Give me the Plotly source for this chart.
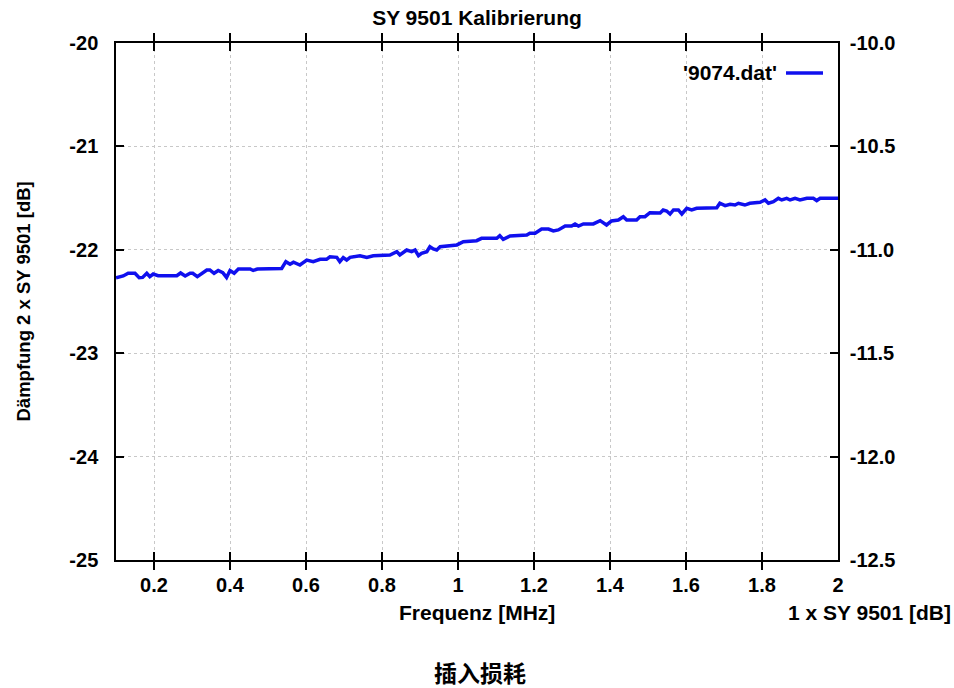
import plotly.graph_objects as go

# Frequency [MHz] and attenuation [dB]
freq = [0.100, 0.119, 0.132, 0.150, 0.161, 0.170, 0.181, 0.189, 0.198, 0.211,
        0.260, 0.270, 0.282, 0.295, 0.302, 0.314, 0.339, 0.347, 0.358, 0.369,
        0.381, 0.391, 0.400, 0.411, 0.422, 0.453, 0.461, 0.472, 0.536, 0.547,
        0.558, 0.567, 0.584, 0.602, 0.619, 0.637, 0.654, 0.663, 0.681, 0.689,
        0.698, 0.707, 0.716, 0.742, 0.760, 0.777, 0.821, 0.839, 0.847, 0.865,
        0.878, 0.887, 0.896, 0.904, 0.918, 0.926, 0.935, 0.944, 0.953, 0.979,
        0.997, 1.014, 1.049, 1.062, 1.102, 1.110, 1.119, 1.137, 1.181, 1.189,
        1.203, 1.220, 1.238, 1.251, 1.264, 1.282, 1.299, 1.308, 1.317, 1.330,
        1.356, 1.374, 1.391, 1.404, 1.422, 1.435, 1.444, 1.470, 1.479, 1.492,
        1.505, 1.532, 1.540, 1.549, 1.558, 1.567, 1.580, 1.589, 1.602, 1.615,
        1.628, 1.681, 1.689, 1.703, 1.716, 1.729, 1.738, 1.755, 1.768, 1.795,
        1.808, 1.817, 1.830, 1.843, 1.852, 1.865, 1.874, 1.887, 1.900, 1.918,
        1.935, 1.944, 1.953, 2.000]
atten = [-22.270, -22.253, -22.227, -22.227, -22.270, -22.267, -22.227, -22.260, -22.234, -22.250,
         -22.250, -22.224, -22.253, -22.227, -22.227, -22.260, -22.195, -22.195, -22.227, -22.200,
         -22.220, -22.267, -22.200, -22.227, -22.186, -22.186, -22.200, -22.186, -22.180, -22.115,
         -22.140, -22.120, -22.147, -22.099, -22.115, -22.092, -22.092, -22.067, -22.073, -22.115,
         -22.076, -22.099, -22.073, -22.057, -22.073, -22.057, -22.050, -22.018, -22.050, -22.002,
         -22.018, -22.002, -22.057, -22.034, -22.018, -21.970, -21.992, -22.002, -21.970, -21.960,
         -21.953, -21.922, -21.912, -21.889, -21.889, -21.863, -21.899, -21.866, -21.857, -21.840,
         -21.840, -21.799, -21.799, -21.818, -21.808, -21.770, -21.770, -21.750, -21.770, -21.750,
         -21.750, -21.718, -21.760, -21.721, -21.712, -21.680, -21.712, -21.712, -21.680, -21.680,
         -21.641, -21.645, -21.615, -21.625, -21.654, -21.615, -21.615, -21.654, -21.599, -21.615,
         -21.599, -21.593, -21.550, -21.573, -21.560, -21.567, -21.550, -21.567, -21.550, -21.540,
         -21.518, -21.550, -21.534, -21.502, -21.518, -21.502, -21.518, -21.502, -21.518, -21.502,
         -21.502, -21.524, -21.502, -21.502]

x_ticks = [0.2, 0.4, 0.6, 0.8, 1.0, 1.2, 1.4, 1.6, 1.8, 2.0]
x_tick_text = ["0.2", "0.4", "0.6", "0.8", "1", "1.2", "1.4", "1.6", "1.8", "2"]
y_ticks = [-20, -21, -22, -23, -24, -25]
y_tick_text = ["-20", "-21", "-22", "-23", "-24", "-25"]
y2_ticks = [-10.0, -10.5, -11.0, -11.5, -12.0, -12.5]
y2_tick_text = ["-10.0", "-10.5", "-11.0", "-11.5", "-12.0", "-12.5"]

FONT = "Liberation Sans Narrow, Liberation Sans, Arial, sans-serif"
BLUE = "#1010ee"

fig = go.Figure()
fig.add_trace(go.Scatter(x=freq, y=atten, mode="lines", name="'9074.dat'",
                         line=dict(color=BLUE, width=3.5), showlegend=False))
# invisible trace to activate right axis
fig.add_trace(go.Scatter(x=[freq[0]], y=[y2_ticks[0]], yaxis="y2", mode="lines",
                         line=dict(width=0), showlegend=False, hoverinfo="skip"))

axis_common = dict(showline=True, linecolor="black", linewidth=1.5,
                   ticks="inside", ticklen=8, tickwidth=1.5, tickcolor="black",
                   zeroline=False,
                   tickfont=dict(family=FONT, size=20, color="black", weight="bold"))

fig.update_layout(
    width=954, height=688,
    margin=dict(l=116, r=116, t=43, b=128),
    paper_bgcolor="white", plot_bgcolor="white",
    xaxis=dict(range=[0.1, 2.0], tickvals=x_ticks, ticktext=x_tick_text,
               mirror="allticks", showgrid=True, gridcolor="#c8c8c8",
               griddash="dot", gridwidth=1, ticklabelstandoff=6, **axis_common),
    yaxis=dict(range=[-25, -20], tickvals=y_ticks, ticktext=y_tick_text,
               mirror="allticks", showgrid=True, gridcolor="#c8c8c8",
               griddash="dot", gridwidth=1, ticklabelstandoff=12, **axis_common),
    yaxis2=dict(range=[-12.5, -10.0], tickvals=y2_ticks, ticktext=y2_tick_text,
                overlaying="y", side="right", showgrid=False,
                ticklabelstandoff=6, **axis_common),
    title=dict(text="SY 9501 Kalibrierung", x=0.5, xanchor="center",
               y=1 - 18 / 688, yanchor="middle",
               font=dict(family=FONT, size=21, color="black", weight="bold")),
)

lab_font = dict(family=FONT, size=21, color="black", weight="bold")
fig.add_annotation(text="Frequenz [MHz]", xref="paper", yref="paper",
                   x=0.5, y=-52 / 517, xanchor="center", yanchor="middle",
                   showarrow=False, font=lab_font)
fig.add_annotation(text="1 x SY 9501 [dB]", xref="paper", yref="paper",
                   x=(869 - 116) / 722, y=-52 / 517, xanchor="center", yanchor="middle",
                   showarrow=False, font=lab_font)
fig.add_annotation(text="Dämpfung 2 x SY 9501 [dB]", xref="paper", yref="paper",
                   x=(23 - 116) / 722, y=0.5, xanchor="center", yanchor="middle",
                   textangle=-90, showarrow=False,
                   font=dict(family=FONT, size=18.5, color="black", weight="bold"))
fig.add_annotation(text="插入损耗", xref="paper", yref="paper",
                   x=(480 - 116) / 722, y=-(672 - 560) / 517, xanchor="center", yanchor="middle",
                   showarrow=False,
                   font=dict(family="Noto Sans CJK SC", size=23, color="black", weight="bold"))
# legend (gnuplot style: label then sample line)
fig.add_annotation(text="'9074.dat'", xref="paper", yref="paper",
                   x=(779 - 116) / 722, y=1 - (73 - 43) / 517, xanchor="right", yanchor="middle",
                   showarrow=False, font=lab_font)
fig.add_shape(type="line", xref="paper", yref="paper",
              x0=(786 - 116) / 722, x1=(823 - 116) / 722,
              y0=1 - (73 - 43) / 517, y1=1 - (73 - 43) / 517,
              line=dict(color=BLUE, width=3.5))

fig.write_html("out.html", config={"displayModeBar": False},
               post_script="document.body.style.margin='0';document.body.style.padding='0';")
